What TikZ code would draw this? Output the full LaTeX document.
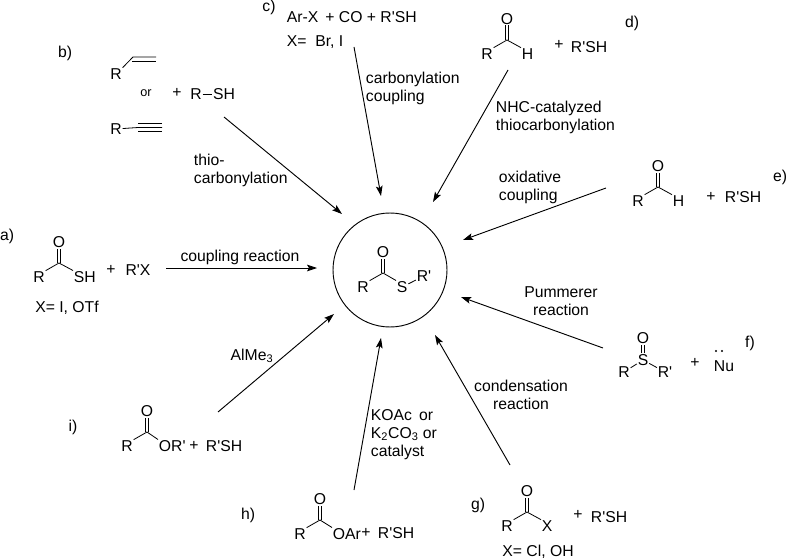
\documentclass[tikz,border=0pt]{standalone}
\usepackage{fontspec}
\usetikzlibrary{arrows.meta}
\newfontfamily\chemfont{Liberation Sans}
\tikzset{
  atom/.style={inner sep=0.5pt, font=\chemfont\fontsize{11.8pt}{13.5pt}\selectfont},
  lbl/.style={atom, align=left},
  smalllbl/.style={atom, font=\chemfont\fontsize{9.5pt}{11pt}\selectfont},
  bond/.style={line width=0.6pt},
  rxn/.style={line width=0.7pt, -{Stealth[length=7.5pt,width=5pt,inset=1.5pt]}},
}
\begin{document}
\begin{tikzpicture}[x=0.75pt, y=-0.75pt]
  \useasboundingbox (0,0) rectangle (787,559);
  % Centre circle
  \node[draw, circle, line width=0.7pt, minimum size=85.5pt, inner sep=0pt] (hub) at (390,270) {};
  % Carbonyl groups: name / x / y / start of right group / group on the right
  \foreach \nm/\x/\y/\dx/\rt in {a/59/263/14/SH, d/507/40/14/H, e/658/187/14/H, g/527/512/14/X,
      h/320/520/12/OAr, i/147/432/11/OR', p/383/273/13/S} {
    \coordinate (\nm-c) at (\x,\y);
    \node[atom] (\nm-o) at (\x,\y-21) {O};
    \node[atom] (\nm-r) at (\x-20,\y+14) {R};
    \node[atom, anchor=west] (\nm-x) at (\x+\dx,\y+14) {\rt};
    \draw[bond] ([xshift=-1.1pt]\nm-c) -- ([xshift=-1.1pt]\nm-o.south);
    \draw[bond] ([xshift=1.1pt]\nm-c) -- ([xshift=1.1pt]\nm-o.south);
    \draw[bond] (\nm-c) -- (\nm-r.north east);
    \draw[bond] (\nm-c) -- (\nm-x.north west);
  }
  % Product
  \node[atom] (p-rr) at (424,276) {R'};
  \draw[bond] (p-x) -- (p-rr);
  % a)
  \node[atom] (a-tag) at (7,236) {a)};
  \node[atom] (a-plus) at (111,270) {+};
  \node[atom] (a-rx) at (138,270) {R'X};
  \node[atom] (a-note) at (67,308) {X= I, OTf};
  \coordinate (a-s) at (166,268);
  \coordinate (a-e) at (317,268);
  \draw[rxn] (a-s) -- (a-e);
  \node[atom] (a-lbl) at (240,257) {coupling reaction};
  % b)
  \node[atom] (b-tag) at (65,53) {b)};
  \node[atom] (b-r1) at (116,74) {R};
  \coordinate (b-v1) at (133,57);
  \coordinate (b-v2) at (156,57);
  \coordinate (b-v3) at (132,61);
  \coordinate (b-v4) at (156,61);
  \draw[bond] (b-r1.north east) -- (b-v1) -- (b-v2);
  \draw[bond] (b-v3) -- (b-v4);
  \node[smalllbl] (b-or) at (146,93) {or};
  \node[atom] (b-plus) at (177,93) {+};
  \node[atom] (b-r2) at (196,94) {R};
  \node[atom] (b-sh) at (224,94) {SH};
  \draw[bond] (b-r2) -- (b-sh);
  \node[atom] (b-r3) at (116,129) {R};
  \coordinate (b-y1) at (138,127.5);
  \coordinate (b-y2) at (162,127.5);
  \draw[bond] (b-r3) -- (b-y1) -- (b-y2);
  \draw[bond] ([yshift=3.2pt]b-y1) -- ([yshift=3.2pt]b-y2);
  \draw[bond] ([yshift=-3.2pt]b-y1) -- ([yshift=-3.2pt]b-y2);
  \coordinate (b-s) at (224,117);
  \coordinate (b-e) at (342,214);
  \draw[rxn] (b-s) -- (b-e);
  \node[lbl, anchor=west] (b-lbl) at (193,170.5) {thio-\\carbonylation};
  % c)
  \node[atom] (c-tag) at (269,7) {c)};
  \node[atom, anchor=west] (c-eq) at (286,17) {Ar-X\, + CO + R'SH};
  \node[atom, anchor=west] (c-note) at (286,42) {X=\; Br, I};
  \coordinate (c-s) at (354,47);
  \coordinate (c-e) at (381,196);
  \draw[rxn] (c-s) -- (c-e);
  \node[lbl, anchor=west] (c-lbl) at (365,88) {carbonylation\\coupling};
  % d)
  \node[atom] (d-plus) at (559,45) {+};
  \node[atom] (d-sh) at (589,47) {R'SH};
  \node[atom] (d-tag) at (632,23) {d)};
  \coordinate (d-s) at (508,70);
  \coordinate (d-e) at (433,202);
  \draw[rxn] (d-s) -- (d-e);
  \node[lbl, anchor=west] (d-lbl) at (495,117) {NHC-catalyzed\\thiocarbonylation};
  % e)
  \node[atom] (e-plus) at (711,197) {+};
  \node[atom] (e-sh) at (743,197) {R'SH};
  \node[atom] (e-tag) at (780,177) {e)};
  \coordinate (e-s) at (606,188);
  \coordinate (e-e) at (463,240);
  \draw[rxn] (e-s) -- (e-e);
  \node[lbl, anchor=west] (e-lbl) at (498,187) {oxidative\\coupling};
  % f)
  \node[atom] (f-o) at (643,338) {O};
  \node[atom] (f-s) at (643,360) {S};
  \node[atom] (f-r) at (624,372) {R};
  \node[atom] (f-rr) at (665,372) {R'};
  \draw[bond] ([xshift=-1.1pt]f-s.north) -- ([xshift=-1.1pt]f-o.south);
  \draw[bond] ([xshift=1.1pt]f-s.north) -- ([xshift=1.1pt]f-o.south);
  \draw[bond] (f-s) -- (f-r);
  \draw[bond] (f-s) -- (f-rr);
  \node[atom] (f-plus) at (695,363) {+};
  \node[atom] (f-nu) at (724,366) {Nu};
  \foreach \x in {716,722} {
    \fill (\x,351) circle (0.9pt);
  }
  \node[atom] (f-tag) at (750,343) {f)};
  \coordinate (f-s1) at (603,348);
  \coordinate (f-e) at (461,297);
  \draw[rxn] (f-s1) -- (f-e);
  \node[lbl, align=center] (f-lbl) at (561,301) {Pummerer\\reaction};
  % g)
  \node[atom] (g-tag) at (478,505) {g)};
  \node[atom] (g-plus) at (578,515) {+};
  \node[atom] (g-sh) at (609,517) {R'SH};
  \node[atom] (g-note) at (538,552) {X= Cl, OH};
  \coordinate (g-s) at (510,465);
  \coordinate (g-e) at (435,335);
  \draw[rxn] (g-s) -- (g-e);
  \node[lbl, align=center] (g-lbl) at (521,395) {condensation\\reaction};
  % h)
  \node[atom] (h-tag) at (248,515) {h)};
  \node[atom] (h-plus) at (366,533) {+};
  \node[atom] (h-sh) at (396,533) {R'SH};
  \coordinate (h-s) at (354,490);
  \coordinate (h-e) at (381,338);
  \draw[rxn] (h-s) -- (h-e);
  \node[lbl, anchor=west] (h-lbl) at (370,434.5) {KOAc\, or\\K\textsubscript{2}CO\textsubscript{3} or\\catalyst};
  % i)
  \node[atom] (i-tag) at (73,427) {i)};
  \node[atom] (i-plus) at (194,446) {+};
  \node[atom] (i-sh) at (224,446) {R'SH};
  \coordinate (i-s) at (218,412);
  \coordinate (i-e) at (334,314);
  \draw[rxn] (i-s) -- (i-e);
  \node[atom] (i-lbl) at (252,356) {AlMe\textsubscript{3}};
\end{tikzpicture}
\end{document}
